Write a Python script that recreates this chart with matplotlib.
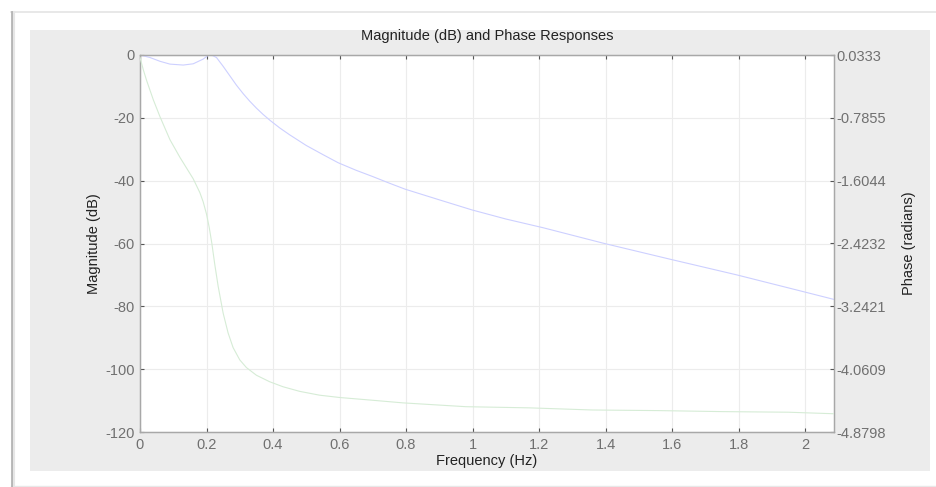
import matplotlib
matplotlib.use("Agg")
import matplotlib.pyplot as plt
from matplotlib.patches import Rectangle
from matplotlib.lines import Line2D

plt.rcParams['font.family'] = ['Liberation Sans', 'DejaVu Sans']
plt.rcParams['axes.unicode_minus'] = False

# ---- data ----
mag_freq = [0, 0.03, 0.06, 0.09, 0.13, 0.16, 0.19, 0.205, 0.215, 0.23, 0.25, 0.27,
            0.29, 0.311, 0.33, 0.35, 0.37, 0.391, 0.42, 0.45, 0.5, 0.55, 0.596,
            0.65, 0.7, 0.75, 0.797, 0.9, 0.998, 1.1, 1.213, 1.393, 1.594, 1.795,
            1.99, 2.087]
mag_db = [0, -0.8, -2.0, -2.9, -3.2, -2.8, -1.3, -0.1, 0, -0.8, -3.6, -6.6,
          -9.6, -12.4, -14.7, -16.9, -18.9, -20.8, -23.2, -25.4, -28.8, -31.7, -34.3,
          -36.7, -38.7, -40.8, -42.7, -46.1, -49.3, -52.2, -55.0, -59.9, -65.0, -70.0,
          -75.2, -77.8]

phase_freq = [0, 0.01, 0.02, 0.04, 0.06, 0.09, 0.12, 0.16, 0.18, 0.19, 0.2, 0.208,
              0.216, 0.225, 0.235, 0.25, 0.265, 0.28, 0.3, 0.32, 0.35, 0.39, 0.43,
              0.48, 0.54, 0.6, 0.71, 0.79, 0.98, 1.17, 1.36, 1.56, 1.75, 1.95, 2.087]
phase_rad = [0.0, -0.16, -0.30, -0.55, -0.77, -1.07, -1.30, -1.58, -1.76, -1.88,
             -2.04, -2.21, -2.42, -2.70, -2.98, -3.33, -3.59, -3.78, -3.94, -4.04,
             -4.14, -4.225, -4.29, -4.35, -4.40, -4.43, -4.47, -4.50, -4.55, -4.565,
             -4.593, -4.601, -4.614, -4.622, -4.642]

x_ticks = [0, 0.2, 0.4, 0.6, 0.8, 1.0, 1.2, 1.4, 1.6, 1.8, 2.0]
x_tick_labels = ['0', '0.2', '0.4', '0.6', '0.8', '1', '1.2', '1.4', '1.6', '1.8', '2']
mag_ticks = [0, -20, -40, -60, -80, -100, -120]
phase_ticks = [0.0333, -0.7855, -1.6044, -2.4232, -3.2421, -4.0609, -4.8798]
phase_tick_labels = ['0.0333', '-0.7855', '-1.6044', '-2.4232', '-3.2421', '-4.0609', '-4.8798']

title = 'Magnitude (dB) and Phase Responses'
xlabel = 'Frequency (Hz)'
ylabel_left = 'Magnitude (dB)'
ylabel_right = 'Phase (radians)'

# ---- figure ----
W, H = 937, 487
fig = plt.figure(figsize=(W / 100, H / 100), dpi=100, facecolor='white')

def fx(px):
    return px / W

def fy(py):
    return 1 - py / H

# window frame
fig.add_artist(Line2D([fx(11), fx(937)], [fy(12), fy(12)], color='#e4e4e4', lw=1.2))
fig.add_artist(Line2D([fx(11), fx(937)], [fy(486), fy(486)], color='#e8e8e8', lw=1.0))
fig.add_artist(Line2D([fx(12), fx(12)], [fy(12), fy(487)], color='#b4b4b4', lw=2.0))
fig.add_artist(Line2D([fx(14), fx(14)], [fy(12), fy(487)], color='#e6e6e6', lw=1.5))

# gray panel
fig.add_artist(Rectangle((fx(30), fy(471)), fx(930) - fx(30), fy(30) - fy(471),
                         facecolor='#ececec', edgecolor='none', zorder=0))

ax = fig.add_axes([fx(140), fy(432), fx(834) - fx(140), fy(55) - fy(432)])
ax.set_facecolor('white')
ax.plot(mag_freq, mag_db, color='#cdd0ff', lw=0.8, zorder=3)
ax.set_xlim(0, 2.087)
ax.set_ylim(-120, 0)
ax.set_xticks(x_ticks)
ax.set_xticklabels(x_tick_labels)
ax.set_yticks(mag_ticks)
ax.grid(True, color='#ececec', lw=0.8)
ax.set_axisbelow(True)
ax.tick_params(direction='in', length=3, width=0.8, colors='#555555',
               labelcolor='#707070', labelsize=10.5, top=True, pad=4)
for s in ax.spines.values():
    s.set_color('#a8a8a8')
    s.set_linewidth(0.9)
ax.set_xlabel(xlabel, fontsize=10.5, color='#222222', labelpad=2)
ax.set_ylabel(ylabel_left, fontsize=10.5, color='#222222', labelpad=3)

ax2 = ax.twinx()
ax2.plot(phase_freq, phase_rad, color='#d6ecd6', lw=0.8, zorder=3)
ax2.set_ylim(-4.8798, 0.0333)
ax2.set_yticks(phase_ticks)
ax2.set_yticklabels(phase_tick_labels)
ax2.tick_params(direction='in', length=3, width=0.8, colors='#555555',
                labelcolor='#707070', labelsize=10.5, pad=2)
for s in ax2.spines.values():
    s.set_color('#a8a8a8')
    s.set_linewidth(0.9)
ax2.set_ylabel(ylabel_right, fontsize=10.5, color='#222222', labelpad=11)

fig.text(fx(487), fy(36), title, ha='center', va='center', fontsize=10.5, color='#222222')

fig.savefig('out.png', dpi=100, facecolor='white')
